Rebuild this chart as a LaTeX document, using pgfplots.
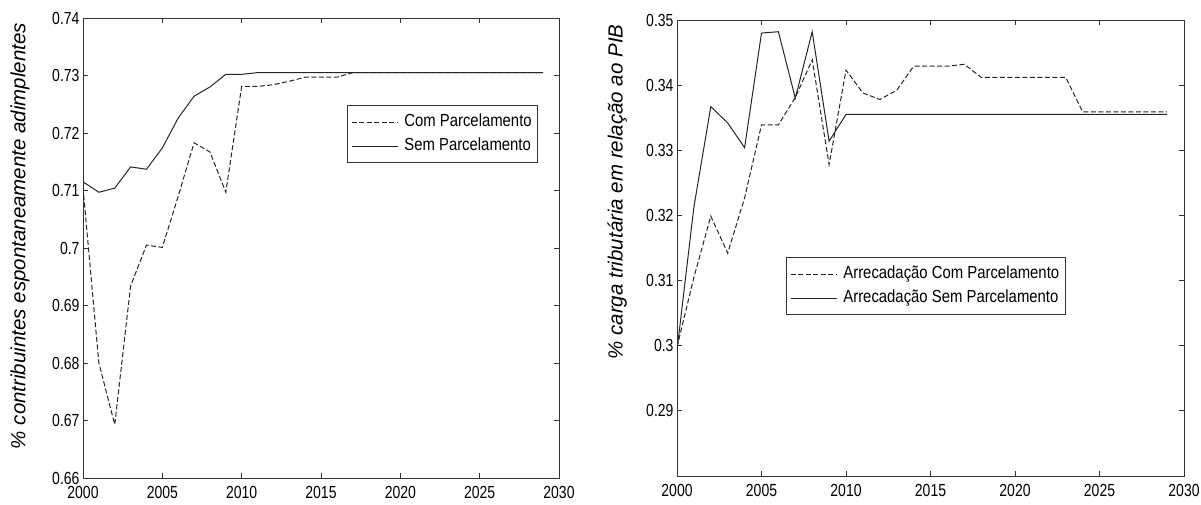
\documentclass[border=0pt]{standalone}
\usepackage{fontspec}
\setmainfont{Liberation Sans}
\newfontfamily\tickfont[FakeStretch=0.8]{Liberation Sans}
\newfontfamily\legfont[FakeStretch=0.85]{Liberation Sans}
\usepackage{pgfplots}
\pgfplotsset{compat=1.18}

\pgfplotsset{mystyle/.style={
  scale only axis, anchor=south west,
  xmin=2000, xmax=2030, xtick={2000,2005,...,2030},
  tick align=inside, tick pos=both, xticklabel pos=lower, yticklabel pos=left,
  major tick length=5pt,
  axis line style={black!80, line width=0.9pt},
  every tick/.style={black!80, line width=0.9pt},
  ticklabel style={font=\tickfont\fontsize{17.5}{17.5}\selectfont, /pgf/number format/assume math mode=true},
  xticklabel style={/pgf/number format/1000 sep={}, yshift=-5pt},
  yticklabel style={/pgf/number format/fixed, /pgf/number format/precision=2},
  ylabel style={font=\fontsize{20.5}{24}\selectfont\itshape, anchor=center},
  legend cell align=left,
  legend image code/.code={\draw[##1] (0pt,0pt) -- (46pt,0pt);},
  legend style={anchor=north west, draw=black!80, line width=0.8pt,
    font=\legfont\fontsize{17.5}{17.5}\selectfont, inner xsep=4pt, inner ysep=7pt,
    row sep=4.5pt, column sep=4pt, nodes={inner sep=2pt, text height=12pt, text depth=3.5pt}},
  com/.style={black!85, line width=1pt, dash pattern=on 5pt off 2.5pt},
  sem/.style={black!85, line width=1pt},
}}

\begin{document}
\begin{tikzpicture}
\useasboundingbox (0pt,0pt) rectangle (1201pt,504pt);

\begin{axis}[mystyle, at={(83pt,26pt)}, width=476pt, height=460pt,
  ymin=0.66, ymax=0.74, ytick={0.66,0.67,...,0.741},
  ylabel={\% contribuintes espontaneamente adimplentes},
  ylabel style={at={(axis description cs:-0.132,0.526)}},
  legend style={at={(axis description cs:0.5546,0.8109)}}]
\addplot[com] table {
x y
2000 0.7105
2001 0.6800
2002 0.6693
2003 0.6934
2004 0.7005
2005 0.7001
2006 0.7090
2007 0.7183
2008 0.7167
2009 0.7097
2010 0.7281
2011 0.7281
2012 0.7284
2013 0.7290
2014 0.7297
2015 0.7297
2016 0.7297
2017 0.7305
2018 0.7305
2019 0.7305
2020 0.7305
2021 0.7305
2022 0.7305
2023 0.7305
2024 0.7305
2025 0.7305
2026 0.7305
2027 0.7305
2028 0.7305
2029 0.7305
};
\addlegendentry{Com Parcelamento}
\addplot[sem] table {
x y
2000 0.7115
2001 0.7097
2002 0.7104
2003 0.7141
2004 0.7137
2005 0.7174
2006 0.7226
2007 0.7264
2008 0.7280
2009 0.7302
2010 0.7302
2011 0.7305
2012 0.7305
2013 0.7305
2014 0.7305
2015 0.7305
2016 0.7305
2017 0.7305
2018 0.7305
2019 0.7305
2020 0.7305
2021 0.7305
2022 0.7305
2023 0.7305
2024 0.7305
2025 0.7305
2026 0.7305
2027 0.7305
2028 0.7305
2029 0.7305
};
\addlegendentry{Sem Parcelamento}
\end{axis}

\begin{axis}[mystyle, at={(677pt,28pt)}, width=507pt, height=456pt,
  ymin=0.28, ymax=0.35, ytick={0.29,0.30,0.31,0.32,0.33,0.34,0.35},
  ylabel={\% carga tributária em relação ao PIB},
  ylabel style={at={(axis description cs:-0.118,0.623)}},
  legend style={at={(axis description cs:0.215,0.4803)}}]
\addplot[com] table {
x y
2000 0.2998
2001 0.3105
2002 0.3199
2003 0.3142
2004 0.3227
2005 0.3339
2006 0.3339
2007 0.3381
2008 0.3439
2009 0.3278
2010 0.3423
2011 0.3388
2012 0.3378
2013 0.3392
2014 0.3429
2015 0.3429
2016 0.3429
2017 0.3432
2018 0.3412
2019 0.3412
2020 0.3412
2021 0.3412
2022 0.3412
2023 0.3412
2024 0.3359
2025 0.3359
2026 0.3359
2027 0.3359
2028 0.3359
2029 0.3359
};
\addlegendentry{Arrecadação Com Parcelamento}
\addplot[sem] table {
x y
2000 0.2993
2001 0.3213
2002 0.3367
2003 0.3342
2004 0.3304
2005 0.3480
2006 0.3482
2007 0.3380
2008 0.3482
2009 0.3314
2010 0.3355
2011 0.3355
2012 0.3355
2013 0.3355
2014 0.3355
2015 0.3355
2016 0.3355
2017 0.3355
2018 0.3355
2019 0.3355
2020 0.3355
2021 0.3355
2022 0.3355
2023 0.3355
2024 0.3355
2025 0.3355
2026 0.3355
2027 0.3355
2028 0.3355
2029 0.3355
};
\addlegendentry{Arrecadação Sem Parcelamento}
\end{axis}
\end{tikzpicture}
\end{document}
